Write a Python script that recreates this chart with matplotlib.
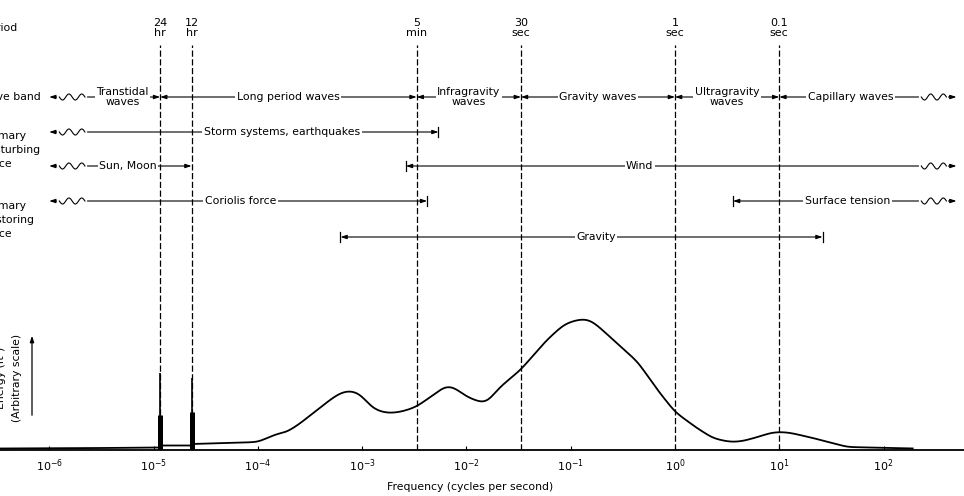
import matplotlib.pyplot as plt
import numpy as np

plt.rcParams['font.family'] = ['DejaVu Sans']
plt.rcParams['font.size'] = 7.8

# energy spectrum of ocean surface waves (arbitrary scale)
freq = [3.4e-7, 3.2e-6, 1.15e-5, 1.16e-5, 2.29e-5, 2.32e-5, 5.4e-5, 1.0e-4,
        1.23e-4, 1.51e-4, 1.9e-4, 2.5e-4, 3.7e-4, 5.2e-4, 6.2e-4, 7.2e-4,
        8.3e-4, 9.5e-4, 1.26e-3, 1.55e-3, 1.86e-3, 2.3e-3, 2.9e-3, 3.4e-3,
        4.8e-3, 6.0e-3, 6.9e-3, 8.0e-3, 1.02e-2, 1.35e-2, 1.58e-2, 2.1e-2,
        3.3e-2, 5.9e-2, 8.5e-2, 0.105, 0.132, 0.155, 0.178, 0.257, 0.44,
        0.68, 1.0, 1.62, 2.3, 3.0, 3.6, 4.5, 6.2, 8.5, 10.7, 13, 21, 45, 190]
energy = [1.5, 2, 2.5, 4.5, 4.5, 6, 7, 8,
          12, 16, 18, 26, 40, 52, 57, 59,
          58.5, 56, 42, 38, 37, 38, 41, 44,
          55, 62.5, 64, 61, 53, 48, 48, 63,
          80, 110, 125, 129, 131, 129.5, 125, 110, 88,
          60, 38, 22, 12, 9, 8, 9, 13, 17.5, 18, 17, 12, 3, 1.5]

# tidal lines (24 hr and 12 hr)
tide_freq = [1 / 86400, 1 / 43200]
tide_top = [77, 72]
tide_core = [35, 38]

# reference periods (s) drawn as dashed lines
period_sec = [86400, 43200, 300, 30, 1, 0.1]
period_text = ['24\nhr', '12\nhr', '5\nmin', '30\nsec', '1\nsec', '0.1\nsec']

# wave bands, separated by the periods above
wave_names = ['Transtidal\nwaves', 'Long period waves', 'Infragravity\nwaves',
              'Gravity waves', 'Ultragravity\nwaves', 'Capillary waves']

# forces: name, low freq, high freq (None = open ended)
disturbing = [('Storm systems, earthquakes', None, 5.4e-3),
              ('Sun, Moon', None, 1 / 43200),
              ('Wind', 2.63e-3, None)]
restoring = [('Coriolis force', None, 4.2e-3),
             ('Surface tension', 3.6, None),
             ('Gravity', 6.2e-4, 26)]

tick_freq = [1e-6, 1e-5, 1e-4, 1e-3, 1e-2, 1e-1, 1e0, 1e1, 1e2]
tick_text = ['$10^{-6}$', '$10^{-5}$', '$10^{-4}$', '$10^{-3}$', '$10^{-2}$',
             '$10^{-1}$', '$10^{0}$', '$10^{1}$', '$10^{2}$']

W, H = 964, 496
fig = plt.figure(figsize=(W / 100, H / 100), dpi=100)
ax = fig.add_axes([0, 46 / H, 1, 450 / H])
ax.set_xscale('log')
ax.set_xlim(10 ** -6.472, 10 ** 2.771)
ax.set_ylim(0, 450)
for s in ['top', 'left', 'right']:
    ax.spines[s].set_visible(False)
ax.spines['bottom'].set_linewidth(1.3)
ax.set_yticks([])
ax.set_xticks(tick_freq)
ax.set_xticklabels(tick_text, fontsize=8)
ax.minorticks_off()
ax.tick_params(axis='x', direction='in', length=3, width=0.8, pad=5)

# spectrum: keep the tidal steps sharp, smooth the rest in log space
lf = np.log10(freq)
split = 6
lg = np.linspace(lf[split], lf[-1], 800)
eg = np.interp(lg, lf, energy)
k = np.exp(-0.5 * (np.arange(-15, 16) / 5.0) ** 2)
k /= k.sum()
eg = np.convolve(np.pad(eg, 15, mode='edge'), k, mode='valid')
x_curve = np.concatenate([np.array(freq[:split]), 10 ** lg])
y_curve = np.concatenate([np.array(energy[:split]), eg])
ax.plot(x_curve, y_curve, color='k', lw=1.3, clip_on=False, zorder=3)
ax.vlines(tide_freq, 0, tide_top, color='k', lw=1.2, zorder=3)
ax.vlines(tide_freq, 0, tide_core, color='k', lw=3.6, zorder=3)

# dashed period lines with labels
period_freq = [1 / p for p in period_sec]
for f, t in zip(period_freq, period_text):
    ax.plot([f, f], [0, 405], color='k', lw=0.9, ls=(0, (5, 2)), zorder=1)
    ax.text(f, 422, t, ha='center', va='center', fontsize=8, linespacing=1.0)

LEFT, RIGHT = 1.0e-6, 500
SQ_LEFT = (1.25e-6, 2.2e-6)
SQ_RIGHT = (230, 400)
arrow = dict(arrowstyle='-|>,head_length=0.6,head_width=0.2', color='k',
             lw=0.8, shrinkA=0, shrinkB=0, mutation_scale=6)
box = dict(fc='white', ec='none', pad=1.2)


def squiggle(f0, f1, y):
    ax.plot([f0, f1], [y, y], color='white', lw=3, zorder=3)
    t = np.linspace(0, 1, 60)
    xs = 10 ** (np.log10(f0) + (np.log10(f1) - np.log10(f0)) * t)
    ax.plot(xs, y + 3 * np.sin(2 * np.pi * 2 * t + np.pi), color='k', lw=0.8,
            zorder=4)


def band(name, lo, hi, y, at=None):
    lo_in = SQ_LEFT[1] if lo is None else lo
    hi_in = SQ_RIGHT[0] if hi is None else hi
    if at is None:
        at = np.sqrt(lo_in * hi_in)
    for end in [LEFT if lo is None else lo, RIGHT if hi is None else hi]:
        ax.annotate('', xy=(end, y), xytext=(at, y), arrowprops=arrow, zorder=2)
    if lo is None:
        squiggle(*SQ_LEFT, y)
    if hi is None:
        squiggle(*SQ_RIGHT, y)
    ax.text(at, y, name, ha='center', va='center',
            linespacing=1.0, bbox=box, zorder=5)
    for f in [lo, hi]:
        if f is not None and f not in period_freq:
            ax.plot([f, f], [y - 5, y + 5], color='k', lw=0.9, zorder=2)


# wave band row
edges = [None] + period_freq[:1] + period_freq[2:] + [None]
for i, name in enumerate(wave_names):
    band(name, edges[i], edges[i + 1], 353)

# force rows
label_at = {'Storm systems, earthquakes': 1.7e-4, 'Sun, Moon': 5.7e-6,
            'Wind': 0.46, 'Coriolis force': 6.8e-5, 'Surface tension': 45,
            'Gravity': 0.175}
for (name, lo, hi), y in zip(disturbing, [318, 284, 284]):
    band(name, lo, hi, y, label_at[name])
for (name, lo, hi), y in zip(restoring, [249, 249, 213]):
    band(name, lo, hi, y, label_at[name])

# left-hand labels (cropped in the reference)
fig.text(18 / W, 1 - 28 / H, 'Period', ha='right', va='center')
fig.text(41 / W, 1 - 97 / H, 'Wave band', ha='right', va='center')
fig.text(-15 / W, 1 - 150 / H, 'Primary\ndisturbing\nforce', ha='left',
         va='center', linespacing=1.45)
fig.text(-15 / W, 1 - 220 / H, 'Primary\nrestoring\nforce', ha='left',
         va='center', linespacing=1.45)
fig.text(9 / W, 1 - 378 / H, 'Energy (ft²)\n(Arbitrary scale)', rotation=90,
         ha='center', va='center', linespacing=1.7)
ax.annotate('', xy=(32, H - 333), xytext=(32, H - 418), xycoords='figure pixels',
            textcoords='figure pixels',
            arrowprops=dict(arrowstyle='-|>,head_length=0.6,head_width=0.2',
                            color='k', lw=0.9, mutation_scale=6))
fig.text(470 / W, 1 - 487 / H, 'Frequency (cycles per second)', ha='center',
         va='center')

fig.savefig('out.png', dpi=100)
